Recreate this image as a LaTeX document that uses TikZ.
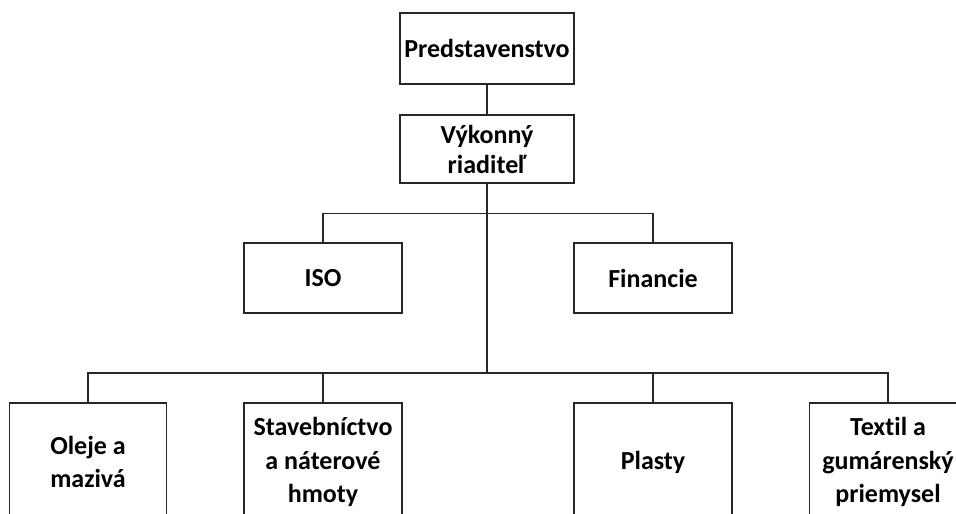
\documentclass[tikz,border=0pt]{standalone}
\usepackage{fontspec}
\setmainfont[Ligatures={NoCommon}]{Carlito}
\begin{document}
\begin{tikzpicture}[x=1pt,y=1pt,
  box/.style={draw=black!85, line width=1.1pt, fill=white, align=center,
    font=\fontsize{26}{30}\selectfont\bfseries, inner sep=0pt},
  lowbox/.style={box, minimum height=118, font=\fontsize{26}{33.5}\selectfont\bfseries},
  conn/.style={draw=black!85, line width=1.1pt}]
\clip (0,0) rectangle (956,-514);
\fill[white] (0,0) rectangle (956,-514);
\node[box, minimum width=174, minimum height=71] (pred) at (487,-48.5) {Predstavenstvo};
\node[box, minimum width=174, minimum height=68] (vyk) at (487,-149) {Výkonný\\riaditeľ};
\node[box, minimum width=158, minimum height=70] (iso) at (323,-278) {ISO};
\node[box, minimum width=158, minimum height=70] (fin) at (653,-278) {Financie};
\node[lowbox, minimum width=157] (ole) at (88,-462) {Oleje a\\mazivá};
\node[lowbox, minimum width=158] (sta) at (323,-462) {Stavebníctvo\\a náterové\\hmoty};
\node[lowbox, minimum width=158] (pla) at (653,-462) {Plasty};
\node[lowbox, minimum width=157] (tex) at (888,-462) {Textil a\\gumárenský\\priemysel};
\coordinate (bus) at (487,-373);
\draw[conn] (pred.south) -- (vyk.north);
\draw[conn] (vyk.south) -- (bus);
\draw[conn] (iso.north) -- ++(0,29) -| (fin.north);
\draw[conn] (ole.north) -- (ole.north |- bus) -| (tex.north);
\draw[conn] (sta.north) -- (sta.north |- bus);
\draw[conn] (pla.north) -- (pla.north |- bus);
\end{tikzpicture}
\end{document}
